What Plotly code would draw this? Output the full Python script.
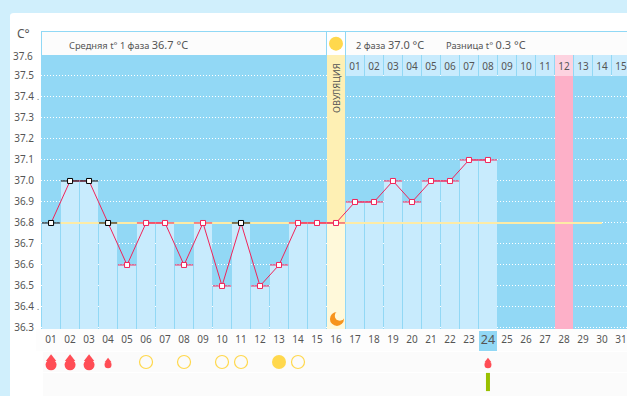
import plotly.graph_objects as go

days = list(range(1, 25))
temps = [36.8, 37.0, 37.0, 36.8, 36.6, 36.8, 36.8, 36.6, 36.8, 36.5, 36.8, 36.5,
         36.6, 36.8, 36.8, 36.8, 36.9, 36.9, 37.0, 36.9, 37.0, 37.0, 37.1, 37.1]
black_days = [1, 2, 3, 4, 11]
all_days = list(range(1, 32))
day_labels = [f"{d:02d}" for d in all_days]
phase2_days = list(range(17, 32))
phase2_labels = [f"{d:02d}" for d in range(1, 16)]
y_ticks = [36.3, 36.4, 36.5, 36.6, 36.7, 36.8, 36.9, 37.0, 37.1, 37.2, 37.3, 37.4, 37.5]
top_tick = 37.6
big_drops = [1, 2, 3]
small_drops = [4, 24]
open_circles = [6, 8, 10, 11, 14]
full_circles = [13]
green_days = [24]
ovulation_day = 16
pink_day = 28
today = 24
coverline = 36.8

GRAY = "#555555"
DARK = "#92D8F5"
LIGHT = "#C8EBFD"
SEP = "#90D8F5"
RED = "#F0245A"
FONT = "Noto Sans"
W, H = 627, 396
YMIN, YMAX = 36.295, 37.6
YTOP = YMAX + 24 / 210
XR = [0.47, 31.32]
Y2R = [0.3, 3.65]

fig = go.Figure()
T = dict(xaxis="x", yaxis="y", showlegend=False, hoverinfo="skip")
B = dict(xaxis="x2", yaxis="y2", showlegend=False, hoverinfo="skip")

# columns
fig.add_trace(go.Bar(x=[pink_day], y=[37.5 - YMIN], base=[YMIN], width=0.95,
                     marker=dict(color="#FDB0C8", line_width=0), **T))
oval_t = temps[days.index(ovulation_day)]
fig.add_trace(go.Bar(x=[ovulation_day], y=[YMAX - YMIN], base=[YMIN], width=0.95,
                     marker=dict(color="#FEF0B4", line_width=0), **T))
fig.add_trace(go.Bar(x=[ovulation_day], y=[oval_t - YMIN], base=[YMIN], width=0.95,
                     marker=dict(color="#FFF9DA", line_width=0), **T))
bar_days = [d for d in days if d != ovulation_day]
bar_vals = [temps[days.index(d)] - YMIN for d in bar_days]
fig.add_trace(go.Bar(x=bar_days, y=bar_vals, base=[YMIN] * len(bar_days), width=0.93,
                     marker=dict(color=LIGHT, line_width=0), **T))
# phase 2 numbered cells
fig.add_trace(go.Bar(x=phase2_days, y=[0.098] * 15, base=[37.502] * 15, width=0.92,
                     marker=dict(color=[("#FDD3E0" if d == pink_day else LIGHT) for d in phase2_days],
                                 line_width=0), **T))
fig.add_trace(go.Scatter(x=phase2_days, y=[37.54] * 15, text=phase2_labels, mode="text",
                         textfont=dict(family=FONT, size=10, color=GRAY), cliponaxis=False, **T))
# coverline
fig.add_trace(go.Scatter(x=[1.5, 30], y=[coverline, coverline], mode="lines",
                         line=dict(color="#FDEBA6", width=2), **T))
# temperature line
fig.add_trace(go.Scatter(x=days, y=temps, mode="lines", line=dict(color=RED, width=1), **T))
for is_black in (False, True):
    xs = [d for d in days if (d in black_days) == is_black]
    ys = [temps[days.index(d)] for d in xs]
    col = "#000000" if is_black else RED
    fig.add_trace(go.Scatter(x=xs, y=ys, mode="markers",
                             error_x=dict(type="constant", value=0.48, width=0, thickness=1, color=col),
                             marker=dict(symbol="square", size=5, color="white", line=dict(color=col, width=1)),
                             **T))
# sun and moon
fig.add_trace(go.Scatter(x=[ovulation_day], y=[37.654], mode="markers",
                         marker=dict(size=14, color="#FFD84D"), **T))
fig.add_trace(go.Scatter(x=[ovulation_day + 0.05], y=[36.343], mode="markers",
                         marker=dict(size=14, color="#F7941D"), **T))
fig.add_trace(go.Scatter(x=[ovulation_day + 0.2], y=[36.358], mode="markers",
                         marker=dict(size=10, color="#FFF9DA"), **T))

# bottom rows
fig.add_trace(go.Bar(x=[today], y=[1], base=[2.55], width=0.95,
                     marker=dict(color=DARK, line_width=0), **B))
fig.add_trace(go.Scatter(x=all_days, y=[3.08] * 31, text=day_labels, mode="text",
                         textfont=dict(family=FONT, size=[12.5 if d == today else 10 for d in all_days],
                                       color=GRAY), **B))
DROP = "#FF4D55"
fig.add_trace(go.Scatter(x=big_drops, y=[1.86] * 3, mode="markers",
                         marker=dict(size=11, color=DROP), **B))
fig.add_trace(go.Scatter(x=big_drops, y=[2.16] * 3, mode="markers",
                         marker=dict(symbol="triangle-up", size=9, color=DROP), **B))
fig.add_trace(go.Scatter(x=small_drops, y=[1.86] * 2, mode="markers",
                         marker=dict(size=7, color=DROP), **B))
fig.add_trace(go.Scatter(x=small_drops, y=[2.06] * 2, mode="markers",
                         marker=dict(symbol="triangle-up", size=6, color=DROP), **B))
fig.add_trace(go.Scatter(x=open_circles, y=[2] * 5, mode="markers",
                         marker=dict(size=13, color="rgba(0,0,0,0)", line=dict(color="#FFD84D", width=1.2)), **B))
fig.add_trace(go.Scatter(x=full_circles, y=[2], mode="markers",
                         marker=dict(size=14, color="#FFD84D"), **B))
fig.add_trace(go.Scatter(x=green_days, y=[1], mode="markers",
                         marker=dict(symbol="line-ns", size=13, line=dict(color="#99C000", width=4)), **B))


def rect(x0, y0, x1, y1, fill, line=None, layer="below"):
    return dict(type="rect", xref="paper", yref="paper", x0=x0 / W, x1=x1 / W,
                y0=1 - y1 / H, y1=1 - y0 / H, fillcolor=fill, layer=layer,
                line=dict(color=line or fill, width=1 if line else 0))


shapes = [
    dict(type="path", xref="paper", yref="paper", layer="below", fillcolor="white", line_width=0,
         path=f"M {10/W} 0 L {10/W} {1-16/H} Q {10/W} {1-13/H} {14/W} {1-13/H} L 1 {1-13/H} L 1 0 Z"),
    rect(41, 31, 627, 55, "#FCFCFC"),
    rect(41, 31, 627, 32, SEP),
    rect(41, 31, 42, 55, SEP),
    rect(41, 55, 627, 329, DARK),
    rect(36, 329, 627, 351, "#FDFDFD"),
    rect(43, 352, 627, 372, "#FBFBFB"),
    rect(43, 373, 627, 396, "#FBFBFB"),
    rect(326, 31, 327, 55, SEP),
    rect(345, 31, 346, 55, SEP),
    rect(327, 32, 345, 55, "#FFFFFF"),
]

ann = dict(xref="paper", yref="paper", showarrow=False, xanchor="left", yanchor="middle",
           font=dict(family=FONT, size=9.3, color=GRAY))
BIG = '<span style="font-size:11px">%s</span>'
annotations = [
    dict(ann, x=67 / W, y=1 - 44 / H, text="Средняя t° 1 фаза " + BIG % "36.7 °C"),
    dict(ann, x=354 / W, y=1 - 44 / H, text="2 фаза " + BIG % "37.0 °C"),
    dict(ann, x=444 / W, y=1 - 44 / H, text="Разница t° " + BIG % "0.3 °C"),
    dict(ann, x=15 / W, y=1 - 33 / H, text="C°", font=dict(family=FONT, size=12, color=GRAY)),
    dict(ann, x=35 / W, y=1 - 56 / H, xanchor="right", text=f"{top_tick:.1f}",
         font=dict(family=FONT, size=10, color=GRAY)),
    dict(ann, x=35 / W, y=1 - 96 / H, text=".", font=dict(family=FONT, size=8, color=GRAY)),
    dict(ann, x=35 / W, y=1 - 306 / H, text=".", font=dict(family=FONT, size=8, color=GRAY)),
    dict(ann, x=336 / W, y=1 - 88 / H, text="ОВУЛЯЦИЯ", textangle=-90, xanchor="center",
         font=dict(family=FONT, size=9.2, color=GRAY)),
]

dom_x = [41.0 / W, 1]
fig.update_layout(
    width=W, height=H, margin=dict(l=0, r=0, t=0, b=0, pad=0, autoexpand=False),
    paper_bgcolor="#D0EFFC", plot_bgcolor="rgba(0,0,0,0)",
    barmode="overlay", bargap=0, shapes=shapes, annotations=annotations,
    xaxis=dict(domain=dom_x, range=XR, showgrid=False, zeroline=False, showticklabels=False,
               ticks="", fixedrange=True, anchor="y", automargin=False),
    yaxis=dict(domain=[1 - 329 / H, 1 - 31 / H], range=[YMIN, YTOP], tickvals=y_ticks,
               ticktext=[f"{v:.1f}" for v in y_ticks], ticks="", showline=False, zeroline=False,
               showgrid=True, gridcolor="white", griddash="1px,2px", gridwidth=1,
               ticklabelstandoff=6, tickfont=dict(family=FONT, size=10, color=GRAY),
               fixedrange=True, anchor="x", automargin=False),
    xaxis2=dict(domain=dom_x, range=XR, visible=False, fixedrange=True, anchor="y2", automargin=False),
    yaxis2=dict(domain=[0, 1 - 329 / H], range=Y2R, visible=False, fixedrange=True, anchor="x2", automargin=False),
)

fig.write_html("out.html", config={"displayModeBar": False},
               post_script="document.body.style.margin='0';document.body.style.overflow='hidden';")
